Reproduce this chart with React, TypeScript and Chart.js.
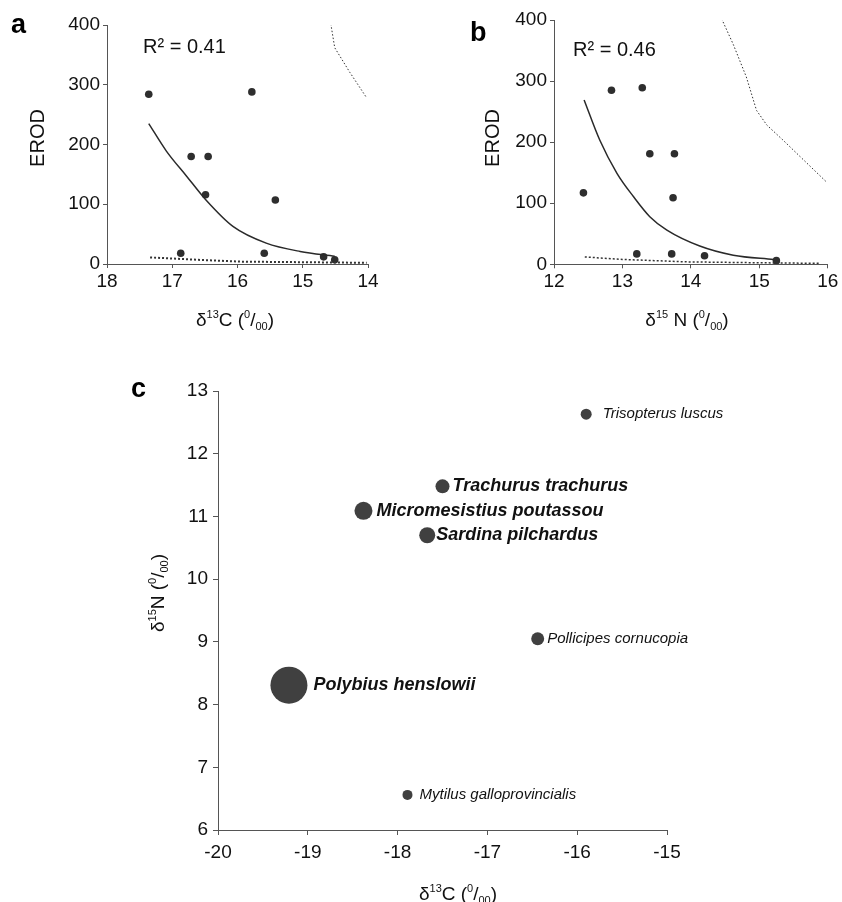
import React, { useEffect, useRef } from 'react';
import { Chart, registerables } from 'chart.js';

Chart.register(...registerables);

const FONT = '"Liberation Sans", Arial, Helvetica, sans-serif';

// ---------- Panel a : EROD vs d13C ----------
const A_X = [17.36, 15.78, 16.71, 16.45, 16.49, 15.42, 16.87, 15.59, 14.68, 14.51];
const A_Y = [284, 288, 180, 180, 116, 107, 18, 18, 12, 7];
const A_FIT_X = [17.36, 17.09, 16.78, 16.49, 16.07, 15.56, 15.04, 14.51];
const A_FIT_Y = [235, 189, 147, 108, 63, 35, 21, 13];
const A_UP_X = [14.57, 14.51, 14.28, 14.02];
const A_UP_Y = [402, 362, 321, 278];
const A_LO_X = [17.34, 16.6, 15.96, 15.0, 14.02];
const A_LO_Y = [11, 7, 4, 3, 2];
const A_R2 = 'R² = 0.41';

// ---------- Panel b : EROD vs d15N ----------
const B_X = [12.43, 12.84, 13.29, 13.4, 13.76, 13.74, 13.21, 13.72, 14.2, 15.25];
const B_Y = [117, 285, 289, 181, 181, 109, 17, 17, 14, 6];
const B_FIT_X = [12.44, 12.67, 12.92, 13.16, 13.4, 13.65, 14.13, 14.62, 15.21];
const B_FIT_Y = [269, 203, 149, 111, 78, 56, 30, 15, 8];
const B_UP_X = [14.45, 14.62, 14.81, 14.96, 15.11, 15.35, 15.6, 15.98];
const B_UP_Y = [402, 360, 307, 252, 228, 203, 176, 135];
const B_LO_X = [12.45, 13.0, 13.94, 15.0, 15.89];
const B_LO_Y = [12, 8, 4, 2.5, 1.6];
const B_R2 = 'R² = 0.46';

const Y_TITLE = 'EROD';

// ---------- Panel c : d15N vs d13C bubbles ----------
const C_NAMES = [
  'Trisopterus luscus',
  'Trachurus trachurus',
  'Micromesistius poutassou',
  'Sardina pilchardus',
  'Pollicipes cornucopia',
  'Polybius henslowii',
  'Mytilus galloprovincialis',
];
const C_X = [-15.9, -17.5, -18.38, -17.67, -16.44, -19.21, -17.89];
const C_Y = [12.63, 11.48, 11.09, 10.7, 9.05, 8.31, 6.56];
const C_SIZE = [5.5, 7, 9, 8, 6.5, 18.5, 5];
const C_BOLD = [false, true, true, true, false, true, false];

// label gaps (style only)
const C_GAP = [11, 3, 4, 1, 3, 6, 7];

type Seg = { t: string; k?: 'sup' | 'sub' };

function drawRich(
  ctx: CanvasRenderingContext2D,
  segs: Seg[],
  cx: number,
  cy: number,
  size: number,
  rotate = false
) {
  ctx.save();
  const f = (k?: string) => `${k ? Math.round(size * 0.58) : size}px ${FONT}`;
  let total = 0;
  for (const s of segs) {
    ctx.font = f(s.k);
    total += ctx.measureText(s.t).width;
  }
  ctx.translate(cx, cy);
  if (rotate) ctx.rotate(-Math.PI / 2);
  ctx.fillStyle = '#111';
  ctx.textBaseline = 'alphabetic';
  ctx.textAlign = 'left';
  let x = -total / 2;
  const base = size * 0.36;
  for (const s of segs) {
    ctx.font = f(s.k);
    const dy = s.k === 'sup' ? -size * 0.42 : s.k === 'sub' ? size * 0.2 : 0;
    ctx.fillText(s.t, x, base + dy);
    x += ctx.measureText(s.t).width;
  }
  ctx.restore();
}

const pts = (xs: number[], ys: number[]) => xs.map((x, i) => ({ x, y: ys[i] }));

const grid = (len: number) => ({
  display: true,
  drawOnChartArea: false,
  drawTicks: true,
  tickLength: len,
  color: '#555',
  lineWidth: 1,
});
const border = { display: true, color: '#555', width: 1 };

function erodChart(
  canvas: HTMLCanvasElement,
  cfg: {
    xs: number[]; ys: number[];
    fx: number[]; fy: number[];
    ux: number[]; uy: number[];
    lx: number[]; ly: number[];
    xmin: number; xmax: number; reverse: boolean;
    pad: { top: number; right: number };
    yWidth: number; xHeight: number;
    yTitlePos: [number, number];
    letter: string; letterPos: [number, number];
    r2: string; r2Pos: [number, number];
    xTitle: Seg[]; xTitlePos: [number, number];
    loWidth: number;
  }
) {
  return new Chart(canvas, {
    type: 'scatter',
    data: {
      datasets: [
        {
          data: pts(cfg.fx, cfg.fy),
          showLine: true,
          pointRadius: 0,
          borderColor: '#2a2a2a',
          borderWidth: 1.5,
          cubicInterpolationMode: 'monotone',
        } as any,
        {
          data: pts(cfg.ux, cfg.uy),
          showLine: true,
          pointRadius: 0,
          borderColor: '#333',
          borderWidth: 1,
          borderDash: [1.5, 2],
        },
        {
          data: pts(cfg.lx, cfg.ly),
          showLine: true,
          pointRadius: 0,
          borderColor: '#333',
          borderWidth: cfg.loWidth,
          borderDash: [2, 2],
        },
        {
          data: pts(cfg.xs, cfg.ys),
          showLine: false,
          pointRadius: 3.8,
          pointBackgroundColor: '#2e2e2e',
          pointBorderWidth: 0,
          borderColor: '#2e2e2e',
        },
      ],
    },
    options: {
      responsive: false,
      animation: false,
      events: [],
      layout: { padding: { left: 0, top: cfg.pad.top, right: cfg.pad.right, bottom: 0 } },
      plugins: { legend: { display: false }, tooltip: { enabled: false } },
      scales: {
        x: {
          type: 'linear',
          min: cfg.xmin,
          max: cfg.xmax,
          reverse: cfg.reverse,
          ticks: { stepSize: 1, font: { family: FONT, size: 19 }, color: '#111', padding: 2 },
          grid: grid(4),
          border,
          afterFit: (s: any) => {
            s.height = cfg.xHeight;
          },
        },
        y: {
          type: 'linear',
          min: 0,
          max: 400,
          ticks: { stepSize: 100, font: { family: FONT, size: 19 }, color: '#111', padding: 3 },
          grid: grid(4),
          border,
          afterFit: (s: any) => {
            s.width = cfg.yWidth;
          },
        },
      } as any,
    },
    plugins: [
      {
        id: 'annot',
        afterDraw(chart: any) {
          const ctx: CanvasRenderingContext2D = chart.ctx;
          ctx.save();
          ctx.fillStyle = '#000';
          ctx.font = `bold 27px ${FONT}`;
          ctx.textBaseline = 'alphabetic';
          ctx.textAlign = 'left';
          ctx.fillText(cfg.letter, cfg.letterPos[0], cfg.letterPos[1]);
          ctx.font = `20px ${FONT}`;
          ctx.fillStyle = '#111';
          ctx.textBaseline = 'middle';
          ctx.fillText(cfg.r2, cfg.r2Pos[0], cfg.r2Pos[1]);
          ctx.translate(cfg.yTitlePos[0], cfg.yTitlePos[1]);
          ctx.rotate(-Math.PI / 2);
          ctx.textAlign = 'center';
          ctx.fillText(Y_TITLE, 0, 0);
          ctx.restore();
          drawRich(ctx, cfg.xTitle, cfg.xTitlePos[0], cfg.xTitlePos[1], 19);
        },
      },
    ],
  });
}

export default function App() {
  const refA = useRef<HTMLCanvasElement>(null);
  const refB = useRef<HTMLCanvasElement>(null);
  const refC = useRef<HTMLCanvasElement>(null);

  useEffect(() => {
    const charts: Chart[] = [];
    if (refA.current) {
      charts.push(
        erodChart(refA.current, {
          xs: A_X, ys: A_Y, fx: A_FIT_X, fy: A_FIT_Y, ux: A_UP_X, uy: A_UP_Y, lx: A_LO_X, ly: A_LO_Y,
          xmin: 14, xmax: 18, reverse: true,
          pad: { top: 25, right: 420 - 368 },
          yWidth: 107, xHeight: 338 - 264,
          yTitlePos: [38, 138],
          letter: 'a', letterPos: [11, 33],
          r2: A_R2, r2Pos: [143, 47],
          xTitle: [{ t: 'δ' }, { t: '13', k: 'sup' }, { t: 'C (' }, { t: '0', k: 'sup' }, { t: '/' }, { t: '00', k: 'sub' }, { t: ')' }],
          xTitlePos: [235, 319],
          loWidth: 2,
        })
      );
    }
    if (refB.current) {
      charts.push(
        erodChart(refB.current, {
          xs: B_X, ys: B_Y, fx: B_FIT_X, fy: B_FIT_Y, ux: B_UP_X, uy: B_UP_Y, lx: B_LO_X, ly: B_LO_Y,
          xmin: 12, xmax: 16, reverse: false,
          pad: { top: 20, right: 422 - 407.7 },
          yWidth: 134, xHeight: 338 - 264.3,
          yTitlePos: [73.5, 138],
          letter: 'b', letterPos: [50, 41],
          r2: B_R2, r2Pos: [153, 50],
          xTitle: [{ t: 'δ' }, { t: '15', k: 'sup' }, { t: ' N (' }, { t: '0', k: 'sup' }, { t: '/' }, { t: '00', k: 'sub' }, { t: ')' }],
          xTitlePos: [267, 319],
          loWidth: 1.5,
        })
      );
    }
    if (refC.current) {
      charts.push(
        new Chart(refC.current, {
          type: 'bubble',
          data: {
            datasets: [
              {
                data: C_X.map((x, i) => ({ x, y: C_Y[i], r: C_SIZE[i] })),
                backgroundColor: '#404040',
                borderColor: '#404040',
                borderWidth: 0,
                clip: false,
              } as any,
            ],
          },
          options: {
            responsive: false,
            animation: false,
            events: [],
            layout: { padding: { left: 0, top: 51, right: 842 - 667, bottom: 0 } },
            plugins: { legend: { display: false }, tooltip: { enabled: false } },
            scales: {
              x: {
                type: 'linear',
                min: -20,
                max: -15,
                ticks: { stepSize: 1, font: { family: FONT, size: 19 }, color: '#111', padding: 6.6 },
                grid: grid(5),
                border,
                afterFit: (s: any) => {
                  s.height = 72;
                },
              },
              y: {
                type: 'linear',
                min: 6,
                max: 13,
                ticks: { stepSize: 1, font: { family: FONT, size: 19 }, color: '#111', padding: 5 },
                grid: grid(5),
                border,
                afterFit: (s: any) => {
                  s.width = 218;
                },
              },
            } as any,
          },
          plugins: [
            {
              id: 'labels',
              afterDatasetsDraw(chart: any) {
                const ctx: CanvasRenderingContext2D = chart.ctx;
                const meta = chart.getDatasetMeta(0);
                ctx.save();
                ctx.fillStyle = '#111';
                ctx.textBaseline = 'middle';
                ctx.textAlign = 'left';
                meta.data.forEach((el: any, i: number) => {
                  ctx.font = C_BOLD[i] ? `italic bold 18px ${FONT}` : `italic 15px ${FONT}`;
                  ctx.fillText(C_NAMES[i], el.x + C_SIZE[i] + C_GAP[i], el.y);
                });
                ctx.fillStyle = '#000';
                ctx.font = `bold 27px ${FONT}`;
                ctx.textBaseline = 'alphabetic';
                ctx.fillText('c', 131, 57);
                ctx.restore();
                drawRich(
                  ctx,
                  [{ t: 'δ' }, { t: '13', k: 'sup' }, { t: 'C (' }, { t: '0', k: 'sup' }, { t: '/' }, { t: '00', k: 'sub' }, { t: ')' }],
                  458,
                  553,
                  19
                );
                drawRich(
                  ctx,
                  [{ t: 'δ' }, { t: '15', k: 'sup' }, { t: 'N (' }, { t: '0', k: 'sup' }, { t: '/' }, { t: '00', k: 'sub' }, { t: ')' }],
                  157,
                  253,
                  19,
                  true
                );
              },
            },
          ],
        })
      );
    }
    return () => {
      charts.forEach((c) => c.destroy());
    };
  }, []);

  return (
    <div style={{ position: 'absolute', left: 0, top: 0, width: 842, height: 902, background: '#fff' }}>
      <canvas ref={refA} width={420} height={338} style={{ position: 'absolute', left: 0, top: 0, width: 420, height: 338 }} />
      <canvas ref={refB} width={422} height={338} style={{ position: 'absolute', left: 420, top: 0, width: 422, height: 338 }} />
      <canvas ref={refC} width={842} height={562} style={{ position: 'absolute', left: 0, top: 340, width: 842, height: 562 }} />
    </div>
  );
}
